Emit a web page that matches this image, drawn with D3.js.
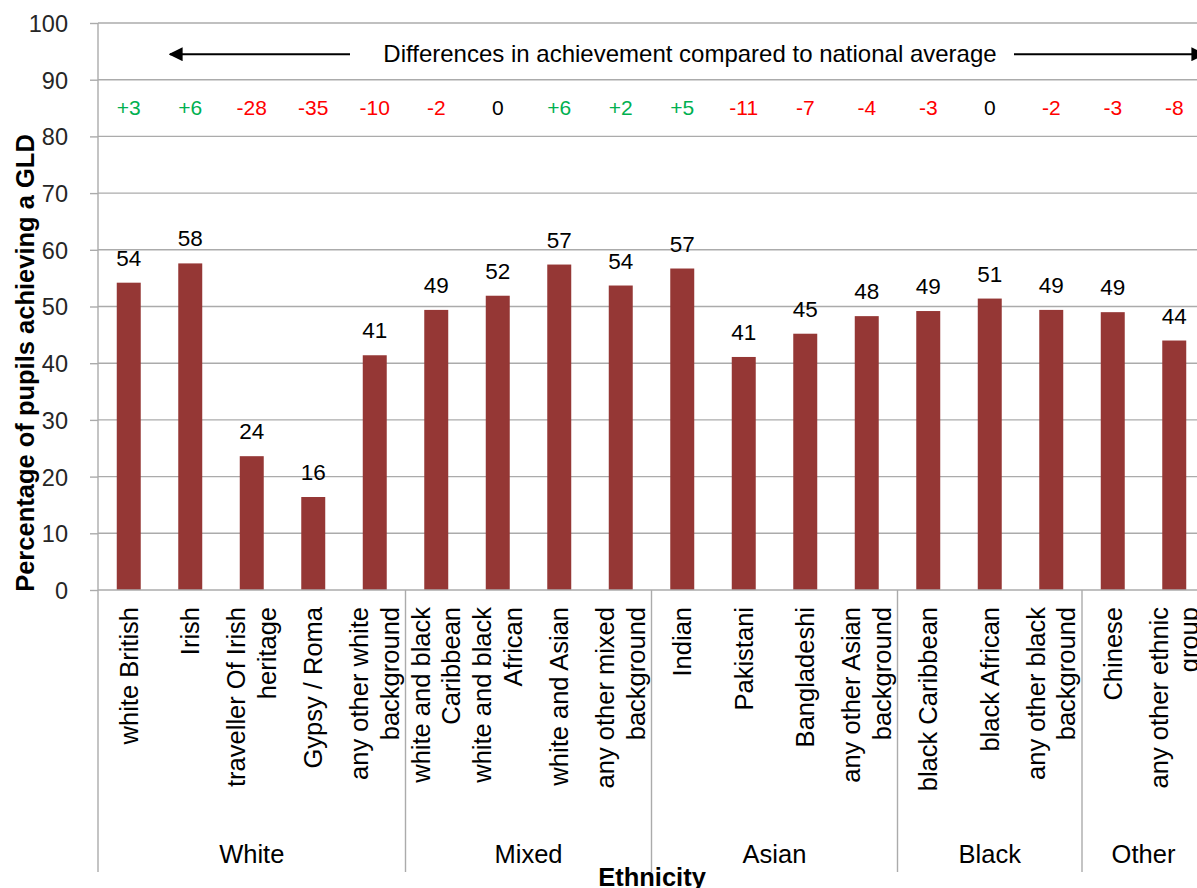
<!DOCTYPE html>
<html>
<head>
<meta charset="utf-8">
<script src="https://cdn.jsdelivr.net/npm/d3@7/dist/d3.min.js"></script>
<style>
  html, body { margin: 0; padding: 0; background: #fff; }
  svg { display: block; font-family: "Liberation Sans", Arial, sans-serif; }
</style>
</head>
<body>
<svg id="chart" width="1197" height="888"></svg>
<script>
// ---- data ----
const categories = [
  "white British", "Irish", "traveller Of Irish\nheritage", "Gypsy / Roma",
  "any other white\nbackground",
  "white and black\nCaribbean", "white and black\nAfrican", "white and Asian",
  "any other mixed\nbackground",
  "Indian", "Pakistani", "Bangladeshi", "any other Asian\nbackground",
  "black Caribbean", "black African", "any other black\nbackground",
  "Chinese", "any other ethnic\ngroup"
];
const values = [54.2, 57.6, 23.6, 16.4, 41.4, 49.4, 51.9, 57.4, 53.7,
                56.7, 41.1, 45.2, 48.3, 49.2, 51.4, 49.4, 49.0, 44.0];
const differences = [3, 6, -28, -35, -10, -2, 0, 6, 2, 5, -11, -7, -4, -3, 0, -2, -3, -8];
const groupNames = ["White", "Mixed", "Asian", "Black", "Other"];
const groupSizes = [5, 4, 4, 3, 2];
const yTicks = [0, 10, 20, 30, 40, 50, 60, 70, 80, 90, 100];
const yTitle = "Percentage of pupils achieving a GLD";
const xTitle = "Ethnicity";
const noteText = "Differences in achievement compared to national average";

// ---- layout ----
const svg = d3.select("#chart");
const pLeft = 98, pRight = 1205, pTop = 23, pBottom = 590, sepBottom = 872;
const barColor = "#953735";
const gridColor = "#ababab";

const x = d3.scaleBand().domain(categories).range([pLeft, pRight]).paddingInner(0).paddingOuter(0);
const y = d3.scaleLinear().domain([0, 100]).range([pBottom, pTop]);
const barW = x.bandwidth() * 0.39;

// gridlines
svg.append("g").selectAll("line").data(yTicks.filter(t => t > 0)).join("line")
  .attr("x1", pLeft).attr("x2", pRight)
  .attr("y1", d => y(d)).attr("y2", d => y(d))
  .attr("stroke", gridColor).attr("stroke-width", 1.4);

// y axis
const yAxis = d3.axisLeft(y).tickValues(yTicks).tickSize(8).tickPadding(22).tickFormat(d3.format("d"));
const ya = svg.append("g").attr("transform", `translate(${pLeft},0)`).call(yAxis);
ya.select(".domain").remove();
ya.selectAll(".tick line").attr("stroke", gridColor).attr("stroke-width", 1.4);
ya.selectAll(".tick text").attr("font-size", 23.5).attr("fill", "#262626")
  .attr("font-family", "'Liberation Sans', Arial, sans-serif").attr("dy", "0.36em");

// vertical axis line extended down to group area
svg.append("line").attr("x1", pLeft).attr("x2", pLeft).attr("y1", pTop).attr("y2", sepBottom)
  .attr("stroke", gridColor).attr("stroke-width", 1.4);

// bars
svg.append("g").selectAll("rect").data(categories).join("rect")
  .attr("x", (d) => x(d) + (x.bandwidth() - barW) / 2)
  .attr("width", barW)
  .attr("y", (d, i) => y(values[i]))
  .attr("height", (d, i) => y(0) - y(values[i]))
  .attr("fill", barColor);

// zero axis line
svg.append("line").attr("x1", pLeft).attr("x2", pRight).attr("y1", y(0)).attr("y2", y(0))
  .attr("stroke", gridColor).attr("stroke-width", 1.4);

// data labels
svg.append("g").selectAll("text").data(categories).join("text")
  .attr("x", d => x(d) + x.bandwidth() / 2)
  .attr("y", (d, i) => y(values[i]) - 17)
  .attr("text-anchor", "middle").attr("font-size", 22.5).attr("fill", "#000")
  .text((d, i) => Math.round(values[i]));

// difference labels
svg.append("g").selectAll("text").data(categories).join("text")
  .attr("x", d => x(d) + x.bandwidth() / 2)
  .attr("y", y(83.8))
  .attr("text-anchor", "middle").attr("font-size", 21)
  .attr("fill", (d, i) => differences[i] > 0 ? "#00B050" : (differences[i] < 0 ? "#FF0000" : "#000"))
  .text((d, i) => differences[i] > 0 ? "+" + differences[i] : String(differences[i]));

// annotation with arrows
const noteY = y(94.5);
svg.append("text").attr("x", 690).attr("y", noteY + 8).attr("text-anchor", "middle")
  .attr("font-size", 24).attr("fill", "#000").text(noteText);
const defs = svg.append("defs");
defs.append("marker").attr("id", "ah").attr("viewBox", "0 0 10 10")
  .attr("refX", 9).attr("refY", 5).attr("markerWidth", 7).attr("markerHeight", 7)
  .attr("markerUnits", "strokeWidth").attr("orient", "auto")
  .append("path").attr("d", "M0,0 L10,5 L0,10 z").attr("fill", "#000");
svg.append("line").attr("x1", 350).attr("x2", 170).attr("y1", noteY).attr("y2", noteY)
  .attr("stroke", "#000").attr("stroke-width", 2).attr("marker-end", "url(#ah)");
svg.append("line").attr("x1", 1014).attr("x2", 1204).attr("y1", noteY).attr("y2", noteY)
  .attr("stroke", "#000").attr("stroke-width", 2).attr("marker-end", "url(#ah)");

// category labels (rotated)
const catG = svg.append("g");
categories.forEach((c, i) => {
  const lines = c.split("\n");
  const cx = x(c) + x.bandwidth() / 2;
  const t = catG.append("text")
    .attr("transform", `translate(${cx},607) rotate(-90)`)
    .attr("text-anchor", "end").attr("font-size", 25.5).attr("fill", "#000");
  const lh = 1.2;
  const first = 0.35 - (lines.length - 1) * lh / 2;
  lines.forEach((ln, j) => {
    t.append("tspan").attr("x", 0).attr("dy", (j === 0 ? first : lh) + "em").text(ln);
  });
});

// group separators and labels
let start = 0;
groupNames.forEach((g, gi) => {
  const n = groupSizes[gi];
  const x0 = x(categories[start]);
  const lastCat = categories[start + n - 1];
  const x1 = x(lastCat) + x.bandwidth();
  if (gi > 0) {
    svg.append("line").attr("x1", x0).attr("x2", x0).attr("y1", pBottom).attr("y2", sepBottom)
      .attr("stroke", gridColor).attr("stroke-width", 1.4);
  }
  svg.append("text").attr("x", (x0 + x1) / 2).attr("y", 863)
    .attr("text-anchor", "middle").attr("font-size", 25.5).attr("fill", "#000").text(g);
  start += n;
});

// axis titles
svg.append("text").attr("x", 652).attr("y", 886).attr("text-anchor", "middle")
  .attr("font-size", 25.5).attr("font-weight", "bold").attr("fill", "#000").text(xTitle);
svg.append("text").attr("transform", "translate(34,363) rotate(-90)")
  .attr("text-anchor", "middle").attr("font-size", 25.5).attr("font-weight", "bold")
  .attr("fill", "#000").text(yTitle);
</script>
</body>
</html>
